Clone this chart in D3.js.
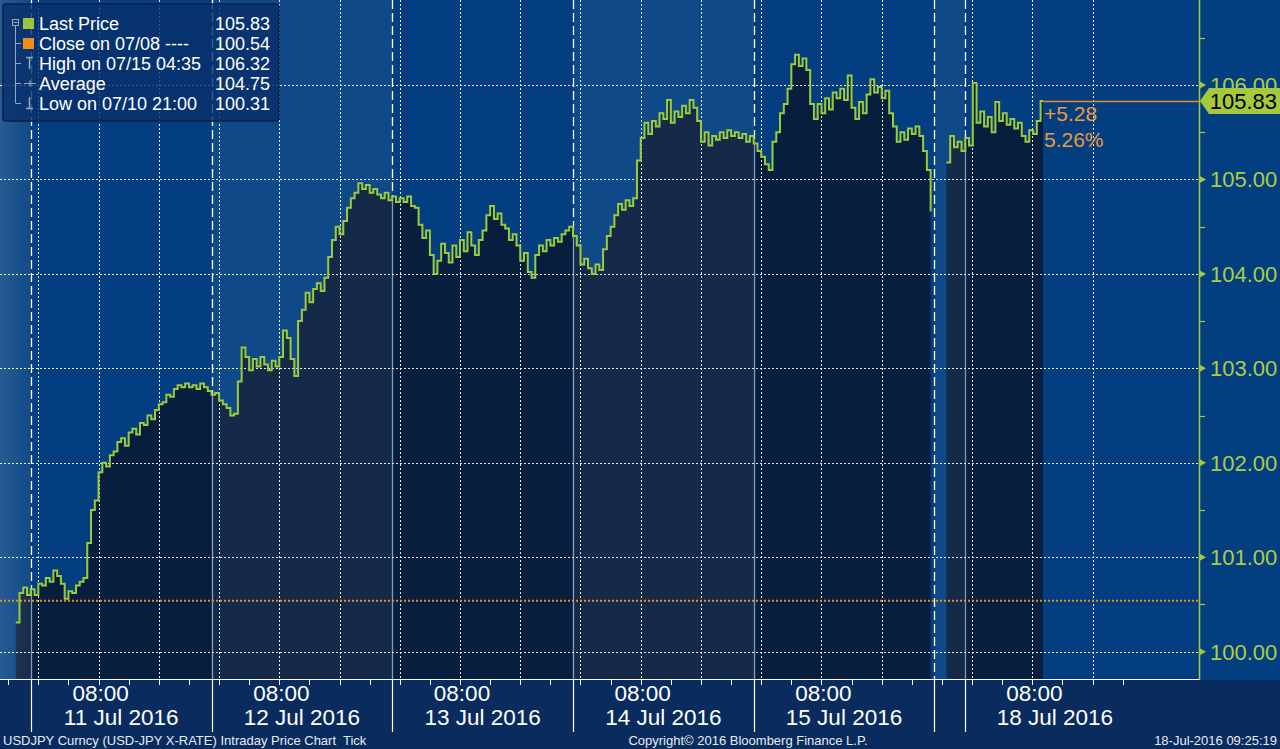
<!DOCTYPE html>
<html><head><meta charset="utf-8">
<script src="https://cdn.jsdelivr.net/npm/d3@7"></script>
<style>
html,body{margin:0;padding:0;background:#0a2b5e;overflow:hidden;}
svg{display:block;font-family:"Liberation Sans",Arial,sans-serif;}
</style></head><body>
<svg id="chart" width="1280" height="749"></svg>
<script>
// ---------- DATA ----------
// time is in hours on the chart clock (0 = 11 Jul 00:00, weekend compressed)
const session1Start = -3.0;
const session1Step = 0.5;
const session1Prices = [
100.31,100.62,100.68,100.60,100.66,100.60,100.72,100.70,100.78,100.74,
100.86,100.80,100.72,100.56,100.64,100.62,100.70,100.74,100.78,101.15,
101.50,101.60,101.90,102.00,101.96,102.08,102.12,102.22,102.26,102.18,
102.32,102.36,102.30,102.42,102.40,102.50,102.46,102.56,102.62,102.64,
102.72,102.70,102.78,102.82,102.80,102.84,102.80,102.82,102.78,102.84,
102.80,102.76,102.72,102.74,102.66,102.62,102.58,102.50,102.52,102.86,
103.22,103.12,102.98,103.10,103.02,103.12,103.04,102.98,103.08,103.02,
103.12,103.40,103.32,103.10,102.92,103.50,103.62,103.80,103.70,103.84,
103.90,103.82,103.96,104.18,104.36,104.50,104.42,104.56,104.70,104.80,
104.86,104.96,104.90,104.94,104.86,104.90,104.84,104.80,104.86,104.78,
104.82,104.76,104.80,104.76,104.82,104.72,104.70,104.52,104.38,104.46,
104.20,104.00,104.14,104.32,104.22,104.12,104.30,104.18,104.36,104.24,
104.44,104.30,104.20,104.36,104.46,104.62,104.72,104.58,104.64,104.52,
104.48,104.36,104.42,104.30,104.14,104.22,104.02,103.96,104.20,104.30,
104.24,104.36,104.30,104.38,104.34,104.42,104.46,104.50,104.40,104.30,
104.10,104.16,104.06,104.00,104.10,104.04,104.26,104.40,104.50,104.62,
104.74,104.68,104.78,104.72,104.80,105.20,105.44,105.60,105.48,105.62,
105.56,105.70,105.64,105.84,105.60,105.72,105.66,105.78,105.70,105.84,
105.76,105.62,105.40,105.50,105.36,105.46,105.42,105.50,105.44,105.52,
105.46,105.50,105.44,105.48,105.40,105.46,105.38,105.30,105.24,105.16,
105.10,105.40,105.50,105.70,105.80,105.96,106.22,106.32,106.20,106.28,
106.16,105.80,105.64,105.80,105.70,105.86,105.74,105.92,105.86,105.96,
105.84,106.10,105.76,105.64,105.82,105.70,105.90,106.06,105.92,105.98,
105.86,105.94,105.70,105.56,105.40,105.50,105.42,105.54,105.48,105.56,
105.46,105.30,105.10,104.66
];
const session2Start = 120.6;
const session2Step = 0.5;
const session2Prices = [
105.18,105.46,105.34,105.40,105.30,105.44,105.36,106.02,105.60,105.72,
105.56,105.66,105.50,105.82,105.62,105.70,105.58,105.64,105.54,105.60,
105.46,105.40,105.52,105.48,105.62,105.83
];
const lastTime = 133.42;
const lastPrice = 105.83;
const prevClose = 100.54;
const changeLabels = ["+5.28", "5.26%"];

const priceTicks = [100, 101, 102, 103, 104, 105, 106];
const priceMinorTicks = [100.5, 101.5, 102.5, 103.5, 104.5, 105.5, 106.5];
const dayBoundaries = [-1, 23, 47, 71, 95, 119, 123];
const lighterBands = [[23, 47], [71, 95], [119, 123]];
const leftEdgeBand = [-6, -1];
const gridHours = [0,8,16,24,32,40,48,56,64,72,80,88,96,104,112,124,132,140];
const axisTickHours = d3.range(-4, 148, 4);
const hourLabelTimes = [8, 32, 56, 80, 104, 132];
const hourLabels = ["08:00","08:00","08:00","08:00","08:00","08:00"];
const dateSpans = [[-1,23],[23,47],[47,71],[71,95],[95,119],[123,147]];
const dateLabels = ["11 Jul 2016","12 Jul 2016","13 Jul 2016","14 Jul 2016","15 Jul 2016","18 Jul 2016"];

const legendLabels = ["Last Price","Close on 07/08 ----","High on 07/15 04:35","Average","Low on 07/10 21:00"];
const legendValues = ["105.83","100.54","106.32","104.75","100.31"];

const footerLeft = "USDJPY Curncy (USD-JPY X-RATE) Intraday Price Chart";
const footerTick = "Tick";
const footerCenter = "Copyright\u00A9 2016 Bloomberg Finance L.P.";
const footerRight = "18-Jul-2016 09:25:19";

// ---------- SETUP ----------
const W = 1280, H = 749;
const plotW = 1199, plotH = 680;
const xDomain = [-5.09, 154.14];
const yDomain = [99.70, 106.90];

const C = {
  bg: "#033f80",
  area: "#081e3f",
  line: "#9ccb3a",
  axisGreen: "#a6c83c",
  orange: "#ee8a22",
  footer: "#0a2b5e"
};

const x = d3.scaleLinear().domain(xDomain).range([0, plotW]);
const y = d3.scaleLinear().domain(yDomain).range([plotH, 0]);

const s1 = session1Prices.map((p, i) => ({t: session1Start + i * session1Step, p}));
const s2 = session2Prices.map((p, i) => ({t: session2Start + i * session2Step, p}));
s2.push({t: lastTime, p: lastPrice});
const sessions = [s1, s2];

const svg = d3.select("#chart");
const defs = svg.append("defs");
defs.append("clipPath").attr("id", "plotClip")
  .append("rect").attr("x", 0).attr("y", 0).attr("width", plotW).attr("height", plotH);

const areaGen = d3.area().x(d => x(d.t)).y0(plotH).y1(d => y(d.p)).curve(d3.curveStepAfter);
const lineGen = d3.line().x(d => x(d.t)).y(d => y(d.p)).curve(d3.curveStepAfter);

const areaClip = defs.append("clipPath").attr("id", "areaClip");
sessions.forEach(s => areaClip.append("path").attr("d", areaGen(s)));

const lg = defs.append("linearGradient").attr("id", "leftGrad")
  .attr("x1", "0").attr("x2", "1").attr("y1", "0").attr("y2", "0");
lg.append("stop").attr("offset", "0%").attr("stop-color", "#ffffff").attr("stop-opacity", 0.16);
lg.append("stop").attr("offset", "100%").attr("stop-color", "#ffffff").attr("stop-opacity", 0.06);

// whole background
svg.append("rect").attr("width", W).attr("height", H).attr("fill", C.footer);
svg.append("rect").attr("width", W).attr("height", plotH).attr("fill", C.bg);

const plot = svg.append("g").attr("clip-path", "url(#plotClip)");

// dashed day boundaries (beneath area)
plot.selectAll("line.day").data(dayBoundaries).join("line")
  .attr("x1", d => Math.round(x(d)) + 0.5).attr("x2", d => Math.round(x(d)) + 0.5)
  .attr("y1", 0).attr("y2", plotH)
  .attr("stroke", "#ffffff").attr("stroke-width", 1.3).attr("stroke-dasharray", "9,4");

// area
sessions.forEach(s => plot.append("path").attr("d", areaGen(s)).attr("fill", C.area));

// pale solid boundary inside area
plot.append("g").attr("clip-path", "url(#areaClip)")
  .selectAll("line").data(dayBoundaries).join("line")
  .attr("x1", d => Math.round(x(d)) + 0.5).attr("x2", d => Math.round(x(d)) + 0.5)
  .attr("y1", 0).attr("y2", plotH)
  .attr("stroke", "#7f9cc6").attr("stroke-width", 1.3);

// lighter bands
plot.selectAll("rect.band").data(lighterBands).join("rect")
  .attr("x", d => x(d[0])).attr("width", d => x(d[1]) - x(d[0]))
  .attr("y", 0).attr("height", plotH)
  .attr("fill", "#ffffff").attr("fill-opacity", 0.055);
plot.append("rect")
  .attr("x", x(leftEdgeBand[0])).attr("width", x(leftEdgeBand[1]) - x(leftEdgeBand[0]))
  .attr("y", 0).attr("height", plotH).attr("fill", "url(#leftGrad)");

// dotted grid
plot.selectAll("line.hgrid").data(priceTicks).join("line")
  .attr("x1", 0).attr("x2", plotW)
  .attr("y1", d => Math.round(y(d)) + 0.5).attr("y2", d => Math.round(y(d)) + 0.5)
  .attr("stroke", "#ffffff").attr("stroke-opacity", 0.9).attr("stroke-dasharray", "2,2");
plot.selectAll("line.vgrid").data(gridHours).join("line")
  .attr("x1", d => Math.round(x(d)) + 0.5).attr("x2", d => Math.round(x(d)) + 0.5)
  .attr("y1", 0).attr("y2", plotH)
  .attr("stroke", "#ffffff").attr("stroke-opacity", 0.9).attr("stroke-dasharray", "2,2");

// previous close
plot.append("line")
  .attr("x1", 0).attr("x2", plotW)
  .attr("y1", y(prevClose)).attr("y2", y(prevClose))
  .attr("stroke", C.orange).attr("stroke-width", 2).attr("stroke-dasharray", "2,2");

// price line
sessions.forEach(s => plot.append("path").attr("d", lineGen(s))
  .attr("fill", "none").attr("stroke", C.line).attr("stroke-width", 2)
  .attr("stroke-linejoin", "miter"));

// last price guide and change labels
svg.append("line")
  .attr("x1", x(lastTime)).attr("x2", plotW)
  .attr("y1", Math.round(y(lastPrice)) + 0.5).attr("y2", Math.round(y(lastPrice)) + 0.5)
  .attr("stroke", "#e8892a").attr("stroke-width", 1.6);
svg.selectAll("text.chg").data(changeLabels).join("text")
  .attr("x", x(lastTime) + 1).attr("y", (d, i) => y(lastPrice) + 20 + i * 26)
  .attr("fill", "#eb9a3c").attr("font-size", 21).text(d => d);

// right axis
const ra = svg.append("g");
ra.append("line").attr("x1", plotW + 0.5).attr("x2", plotW + 0.5).attr("y1", 0).attr("y2", plotH)
  .attr("stroke", C.axisGreen).attr("stroke-width", 1.5);
ra.selectAll("path.tri").data(priceTicks).join("path")
  .attr("d", d => { const yy = y(d); return `M${plotW},${yy - 4}L${plotW + 7},${yy}L${plotW},${yy + 4}Z`; })
  .attr("fill", C.axisGreen);
ra.selectAll("line.minor").data(priceMinorTicks).join("line")
  .attr("x1", plotW).attr("x2", plotW + 6)
  .attr("y1", d => Math.round(y(d)) + 0.5).attr("y2", d => Math.round(y(d)) + 0.5)
  .attr("stroke", C.axisGreen).attr("stroke-width", 1.2);
ra.selectAll("text").data(priceTicks).join("text")
  .attr("x", plotW + 11).attr("y", d => y(d) + 8)
  .attr("fill", "#aecb45").attr("font-size", 22).text(d => d.toFixed(2));

// last price tag
const ty = y(lastPrice);
svg.append("path")
  .attr("d", `M${plotW + 1},${ty}L${plotW + 10},${ty - 13}L${W},${ty - 13}L${W},${ty + 13}L${plotW + 10},${ty + 13}Z`)
  .attr("fill", C.axisGreen);
svg.append("text").attr("x", W - 3).attr("y", ty + 8).attr("text-anchor", "end")
  .attr("fill", "#000000").attr("font-size", 22).text(lastPrice.toFixed(2));

// bottom axis
const ba = svg.append("g");
ba.append("line").attr("x1", 0).attr("x2", plotW).attr("y1", plotH - 0.5).attr("y2", plotH - 0.5)
  .attr("stroke", "#ffffff").attr("stroke-width", 1.2);
ba.selectAll("line.tick").data(axisTickHours).join("line")
  .attr("x1", d => Math.round(x(d)) + 0.5).attr("x2", d => Math.round(x(d)) + 0.5)
  .attr("y1", plotH).attr("y2", plotH + 5)
  .attr("stroke", "#ffffff");
ba.selectAll("line.sep").data(dayBoundaries).join("line")
  .attr("x1", d => Math.round(x(d)) + 0.5).attr("x2", d => Math.round(x(d)) + 0.5)
  .attr("y1", plotH).attr("y2", plotH + 52)
  .attr("stroke", "#ffffff").attr("stroke-width", 1.2);
ba.selectAll("text.hr").data(hourLabelTimes).join("text")
  .attr("x", d => x(d) + 2).attr("y", plotH + 21).attr("text-anchor", "middle")
  .attr("fill", "#ffffff").attr("font-size", 22.5).text((d, i) => hourLabels[i]);
ba.selectAll("text.dt").data(dateSpans).join("text")
  .attr("x", d => (x(d[0]) + x(d[1])) / 2).attr("y", plotH + 45).attr("text-anchor", "middle")
  .attr("fill", "#ffffff").attr("font-size", 22.5).text((d, i) => dateLabels[i]);

// footer
const ft = svg.append("g").attr("font-size", 13).attr("fill", "#e6ebf3");
ft.append("text").attr("x", 3).attr("y", 745).text(footerLeft);
ft.append("text").attr("x", 343).attr("y", 745).text(footerTick);
ft.append("text").attr("x", 748).attr("y", 745).attr("text-anchor", "middle").text(footerCenter);
ft.append("text").attr("x", 1277).attr("y", 745).attr("text-anchor", "end").text(footerRight);

// legend
const lgd = svg.append("g");
lgd.append("rect").attr("x", 3).attr("y", 4).attr("width", 276).attr("height", 117).attr("rx", 3)
  .attr("fill", "#07306a").attr("fill-opacity", 0.8).attr("stroke", "#06204a").attr("stroke-width", 1.5);
const rowY = (i) => 23 + i * 20;
const iconCol = "#9aa7bb";
// tree
lgd.append("rect").attr("x", 12.5).attr("y", rowY(0) - 3.5).attr("width", 6).attr("height", 6)
  .attr("fill", "none").attr("stroke", iconCol);
lgd.append("line").attr("x1", 13.5).attr("x2", 17.5).attr("y1", rowY(0) - 0.5).attr("y2", rowY(0) - 0.5).attr("stroke", iconCol);
lgd.append("line").attr("x1", 15.5).attr("x2", 15.5).attr("y1", rowY(0) + 3).attr("y2", rowY(4)).attr("stroke", iconCol);
lgd.selectAll("line.stub").data([1, 2, 3, 4]).join("line")
  .attr("x1", 15.5).attr("x2", 21).attr("y1", d => rowY(d) + 0.5).attr("y2", d => rowY(d) + 0.5).attr("stroke", iconCol);
// icons
lgd.append("rect").attr("x", 23).attr("y", rowY(0) - 5).attr("width", 11).attr("height", 11).attr("fill", "#9cc63a");
lgd.append("rect").attr("x", 23).attr("y", rowY(1) - 5).attr("width", 11).attr("height", 11).attr("fill", "#f28c1a");
lgd.append("path").attr("d", `M26,${rowY(2) - 5.5}H33M29.5,${rowY(2) - 5.5}V${rowY(2) + 6}`)
  .attr("stroke", iconCol).attr("fill", "none").attr("stroke-width", 1.5);
lgd.append("path").attr("d", `M24,${rowY(3) + 0.5}H36M30,${rowY(3) - 2.5}V${rowY(3) + 3.5}`)
  .attr("stroke", iconCol).attr("fill", "none").attr("stroke-width", 1.2);
lgd.append("path").attr("d", `M29.5,${rowY(4) - 6}V${rowY(4) + 5.5}M26,${rowY(4) + 5.5}H33`)
  .attr("stroke", iconCol).attr("fill", "none").attr("stroke-width", 1.5);
lgd.selectAll("text.lab").data(legendLabels).join("text")
  .attr("x", 39).attr("y", (d, i) => rowY(i) + 6.5)
  .attr("fill", "#ffffff").attr("font-size", 18).text(d => d);
lgd.selectAll("text.val").data(legendValues).join("text")
  .attr("x", 270).attr("y", (d, i) => rowY(i) + 6.5).attr("text-anchor", "end")
  .attr("fill", "#ffffff").attr("font-size", 18).text(d => d);
</script>
</body></html>
